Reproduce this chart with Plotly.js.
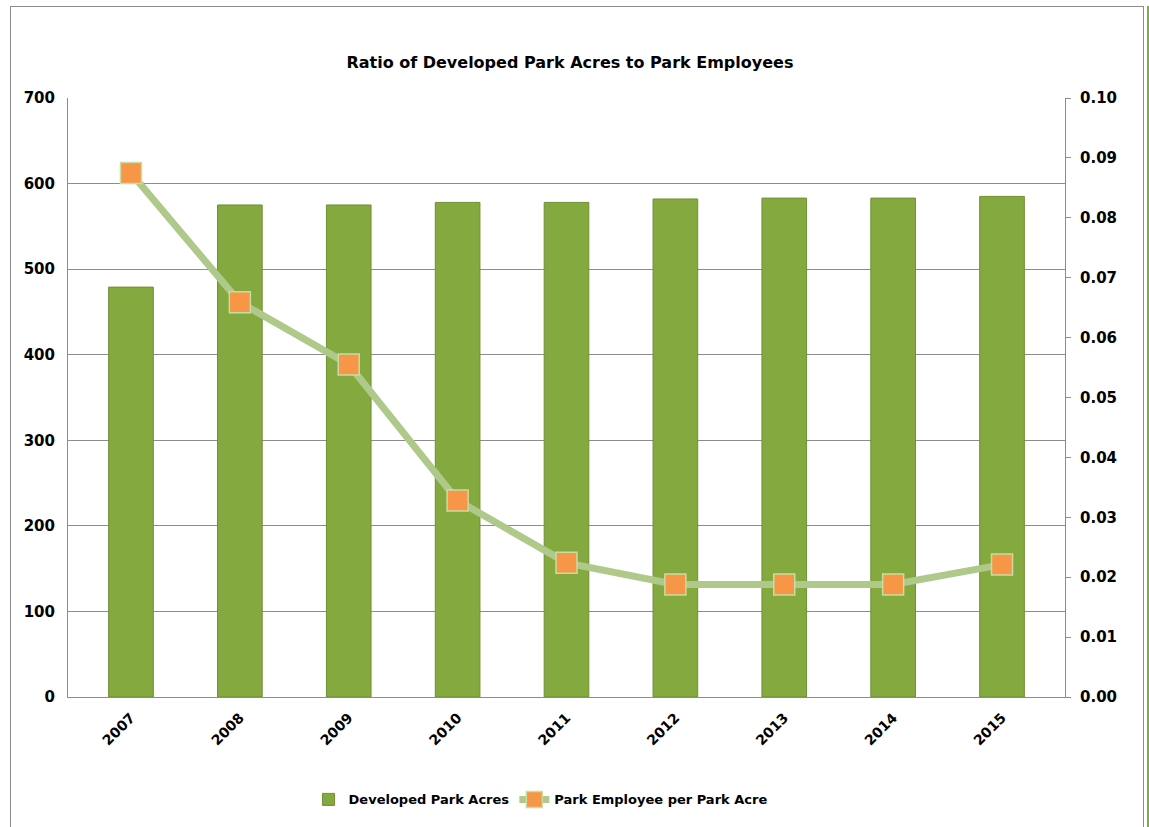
<!DOCTYPE html>
<html>
<head>
<meta charset="utf-8">
<script src="https://cdn.plot.ly/plotly-3.0.1.min.js"></script>
<style>
  html, body { margin: 0; padding: 0; background: #ffffff; }
  #frame { position: absolute; left: 10px; top: 6px; width: 1132px; height: 830px;
           border-left: 1px solid #8c8c8c; border-top: 1px solid #8c8c8c; border-right: 1px solid #8c8c8c; }
  #frame2 { position: absolute; left: 1147px; top: 6px; width: 2px; height: 830px; background: #7fae3a; }
  #chart { position: absolute; left: 0; top: 0; width: 1149px; height: 827px; }
</style>
</head>
<body>
<div id="frame"></div>
<div id="frame2"></div>
<div id="chart"></div>
<script>
const years = ['2007', '2008', '2009', '2010', '2011', '2012', '2013', '2014', '2015'];
const developedParkAcres = [479, 575, 575, 578, 578, 582, 583, 583, 585];
const employeePerAcre = [0.0875, 0.0659, 0.0555, 0.0328, 0.0224, 0.0188, 0.0188, 0.0188, 0.0221];
const leftTicks = [0, 100, 200, 300, 400, 500, 600, 700];
const rightTicks = [0, 0.01, 0.02, 0.03, 0.04, 0.05, 0.06, 0.07, 0.08, 0.09, 0.10];

const fontFam = 'DejaVu Sans, Verdana, sans-serif';

const traces = [
  {
    type: 'bar',
    name: 'Developed Park Acres',
    x: years,
    y: developedParkAcres,
    marker: { color: '#84a93f', line: { color: '#6f8f33', width: 1 } },
    yaxis: 'y'
  },
  {
    type: 'scatter',
    mode: 'lines+markers',
    name: 'Park Employee per Park Acre',
    x: years,
    y: employeePerAcre,
    yaxis: 'y2',
    line: { color: '#afc98b', width: 7 },
    marker: { symbol: 'square', size: 21, color: '#f79646', line: { color: '#c9dca4', width: 1.5 } }
  }
];

const layout = {
  width: 1149,
  height: 827,
  margin: { l: 68, r: 84, t: 98, b: 127 },
  paper_bgcolor: 'rgba(0,0,0,0)',
  plot_bgcolor: 'rgba(0,0,0,0)',
  bargap: 0.59,
  showlegend: true,
  title: {
    text: 'Ratio of Developed Park Acres to Park Employees',
    font: { family: fontFam, size: 16, color: '#000000', weight: 'bold' },
    x: 0.496, xanchor: 'center',
    y: 0.925, yanchor: 'middle'
  },
  xaxis: {
    type: 'category',
    tickangle: -45,
    tickfont: { family: fontFam, size: 14, color: '#000000', weight: 'bold' },
    ticklabelstandoff: 6,
    showline: true, linecolor: '#8c8c8c', linewidth: 1,
    ticks: '', showgrid: false
  },
  yaxis: {
    range: [0, 700],
    tickvals: leftTicks,
    ticktext: leftTicks.map(String),
    tickfont: { family: fontFam, size: 15, color: '#000000', weight: 'bold' },
    ticklabelstandoff: 9,
    showline: true, linecolor: '#8c8c8c', linewidth: 1,
    showgrid: true, gridcolor: '#8c8c8c', gridwidth: 1,
    ticks: '', ticklen: 0,
    zeroline: false,
    fixedrange: true
  },
  yaxis2: {
    range: [0, 0.10],
    overlaying: 'y',
    side: 'right',
    tickvals: rightTicks,
    ticktext: rightTicks.map(v => v.toFixed(2)),
    tickfont: { family: fontFam, size: 15, color: '#000000', weight: 'bold' },
    ticklabelstandoff: 6,
    showline: true, linecolor: '#8c8c8c', linewidth: 1,
    ticks: 'outside', ticklen: 5, tickcolor: '#8c8c8c',
    showgrid: false, zeroline: false
  },
  legend: {
    orientation: 'h',
    x: 0.474, xanchor: 'center',
    y: -0.171, yanchor: 'middle',
    font: { family: fontFam, size: 13, color: '#000000', weight: 'bold' },
    itemwidth: 30
  }
};

Plotly.newPlot('chart', traces, layout, { displayModeBar: false, staticPlot: true });
</script>
</body>
</html>
